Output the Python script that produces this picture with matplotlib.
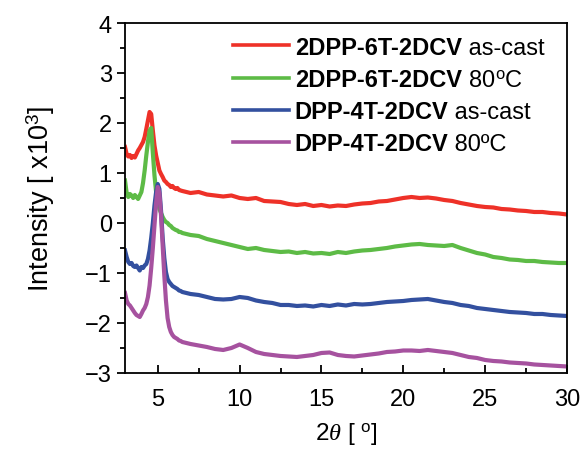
import numpy as np
import matplotlib
matplotlib.use("Agg")
import matplotlib.pyplot as plt
from matplotlib.ticker import MultipleLocator

plt.rcParams['font.family'] = ['Liberation Sans', 'DejaVu Sans']
plt.rcParams['mathtext.fontset'] = 'custom'
plt.rcParams['mathtext.rm'] = 'Liberation Sans'
plt.rcParams['mathtext.it'] = 'Liberation Serif:italic'
plt.rcParams['mathtext.bf'] = 'Liberation Sans:bold'

# 2theta positions (dense around the low-angle peak)
two_theta = [3.0, 3.1, 3.2, 3.3, 3.4, 3.5, 3.6, 3.7, 3.8, 3.9,
             4.0, 4.1, 4.2, 4.3, 4.4, 4.5, 4.6, 4.7, 4.8, 4.9,
             5.0, 5.1, 5.2, 5.3, 5.4, 5.5, 5.6, 5.7, 5.8, 5.9,
             6.0, 6.1, 6.2, 6.3, 6.4,
             6.5, 7.0, 7.5, 8.0, 8.5, 9.0, 9.5, 10.0, 10.5, 11.0,
             11.5, 12.0, 12.5, 13.0, 13.5, 14.0, 14.5, 15.0, 15.5, 16.0,
             16.5, 17.0, 17.5, 18.0, 18.5, 19.0, 19.5, 20.0, 20.5, 21.0,
             21.5, 22.0, 22.5, 23.0, 23.5, 24.0, 24.5, 25.0, 25.5, 26.0,
             26.5, 27.0, 27.5, 28.0, 28.5, 29.0, 29.5, 30.0]

# intensities (x10^3, offset)
dpp6t_ascast = [1.52, 1.38, 1.33, 1.36, 1.30, 1.34, 1.31, 1.38, 1.45, 1.50,
                1.56, 1.62, 1.72, 1.88, 2.05, 2.22, 2.18, 1.85, 1.55, 1.35,
                1.20, 1.05, 0.98, 0.92, 0.85, 0.82, 0.78, 0.76, 0.72, 0.74,
                0.70, 0.68, 0.70, 0.66, 0.65,
                0.64, 0.60, 0.62, 0.57, 0.55, 0.53, 0.55, 0.50, 0.48, 0.50,
                0.44, 0.43, 0.42, 0.38, 0.36, 0.38, 0.34, 0.36, 0.33, 0.35,
                0.34, 0.37, 0.39, 0.40, 0.43, 0.44, 0.47, 0.50, 0.52, 0.50,
                0.51, 0.49, 0.46, 0.44, 0.40, 0.37, 0.34, 0.32, 0.31, 0.28,
                0.27, 0.25, 0.24, 0.22, 0.22, 0.20, 0.19, 0.17]

dpp6t_80c = [0.85, 0.60, 0.52, 0.58, 0.55, 0.50, 0.56, 0.52, 0.48, 0.55,
             0.62, 0.80, 1.05, 1.35, 1.62, 1.85, 1.90, 1.40, 0.95, 0.62,
             0.42, 0.28, 0.20, 0.12, 0.06, 0.02, 0.00, -0.04, -0.06, -0.10,
             -0.12, -0.14, -0.15, -0.18, -0.18,
             -0.20, -0.24, -0.26, -0.32, -0.36, -0.40, -0.44, -0.48, -0.52, -0.50,
             -0.54, -0.56, -0.58, -0.57, -0.60, -0.58, -0.61, -0.60, -0.62, -0.58,
             -0.60, -0.57, -0.55, -0.54, -0.52, -0.50, -0.47, -0.45, -0.43, -0.42,
             -0.44, -0.45, -0.46, -0.44, -0.50, -0.55, -0.60, -0.63, -0.68, -0.70,
             -0.73, -0.74, -0.76, -0.76, -0.78, -0.79, -0.80, -0.80]

dpp4t_ascast = [-0.55, -0.68, -0.78, -0.82, -0.80, -0.86, -0.88, -0.85, -0.90, -0.95,
                -0.88, -0.90, -0.85, -0.82, -0.72, -0.55, -0.30, 0.00, 0.35, 0.62,
                0.78, 0.68, 0.25, -0.30, -0.70, -0.98, -1.12, -1.18, -1.22, -1.26,
                -1.28, -1.30, -1.32, -1.35, -1.36,
                -1.38, -1.42, -1.44, -1.48, -1.52, -1.53, -1.52, -1.48, -1.50, -1.55,
                -1.58, -1.60, -1.64, -1.64, -1.66, -1.65, -1.67, -1.64, -1.66, -1.63,
                -1.65, -1.62, -1.63, -1.62, -1.60, -1.58, -1.57, -1.56, -1.54, -1.53,
                -1.52, -1.55, -1.58, -1.60, -1.64, -1.66, -1.70, -1.72, -1.74, -1.76,
                -1.78, -1.79, -1.80, -1.82, -1.82, -1.84, -1.85, -1.86]

dpp4t_80c = [-1.40, -1.55, -1.62, -1.65, -1.70, -1.75, -1.80, -1.84, -1.86, -1.88,
             -1.82, -1.75, -1.70, -1.62, -1.48, -1.25, -0.90, -0.50, -0.05, 0.40,
             0.72, 0.60, 0.15, -0.45, -1.05, -1.55, -1.90, -2.08, -2.18, -2.24,
             -2.28, -2.30, -2.32, -2.35, -2.36,
             -2.38, -2.42, -2.45, -2.48, -2.52, -2.54, -2.50, -2.43, -2.50, -2.58,
             -2.62, -2.64, -2.66, -2.67, -2.68, -2.66, -2.64, -2.60, -2.59, -2.64,
             -2.66, -2.67, -2.65, -2.63, -2.61, -2.58, -2.57, -2.55, -2.55, -2.56,
             -2.54, -2.56, -2.58, -2.60, -2.64, -2.68, -2.70, -2.74, -2.76, -2.77,
             -2.79, -2.80, -2.81, -2.83, -2.84, -2.85, -2.86, -2.87]

series = [dpp6t_ascast, dpp6t_80c, dpp4t_ascast, dpp4t_80c]
bold_names = ['2DPP-6T-2DCV', '2DPP-6T-2DCV', 'DPP-4T-2DCV', 'DPP-4T-2DCV']
conditions = [' as-cast', r' 80$^\mathrm{o}$C', ' as-cast', ' 80\u00baC']
colors = ['#ee3128', '#5dbb46', '#33509f', '#a6529f']

fig = plt.figure(figsize=(5.82, 4.52), dpi=100)
ax = fig.add_axes([0.2148, 0.1726, 0.7594, 0.7743])

for y, c, name in zip(series, colors, bold_names):
    ax.plot(two_theta, y, color=c, lw=3, label=name)

ax.set_xlim(3, 30)
ax.set_ylim(-3, 4)
ax.xaxis.set_major_locator(MultipleLocator(5))
ax.xaxis.set_minor_locator(MultipleLocator(2.5))
ax.yaxis.set_major_locator(MultipleLocator(1))
ax.yaxis.set_minor_locator(MultipleLocator(0.5))
ax.tick_params(axis='x', which='both', direction='in', labelsize=17, pad=11)
ax.tick_params(axis='y', which='both', direction='out', labelsize=17)
ax.tick_params(which='major', length=6, width=1.3)
ax.tick_params(which='minor', length=3.5, width=1.3)
for s in ax.spines.values():
    s.set_linewidth(1.3)

ax.set_xlabel(r'2$\theta$ [ $^\mathrm{o}$]', fontsize=17.5, labelpad=7)
ax.set_ylabel(r'Intensity [ x10$^3$]', fontsize=19.5, labelpad=20)

leg = ax.legend(loc='upper left', bbox_to_anchor=(0.245, 0.964), frameon=False,
                fontsize=17, handlelength=2.35, handletextpad=0.25,
                labelspacing=0.39, borderpad=0, borderaxespad=0)
for t in leg.get_texts():
    t.set_fontweight('bold')
for line in leg.get_lines():
    line.set_linewidth(2.6)
# normal-weight part of each legend entry, drawn after the legend
for t, cond in zip(leg.get_texts(), conditions):
    ax.annotate(cond, xy=(1, 0), xycoords=t, va='bottom', ha='left',
                fontsize=17, zorder=10)

fig.savefig('out.png', dpi=100)
plt.close('all')
